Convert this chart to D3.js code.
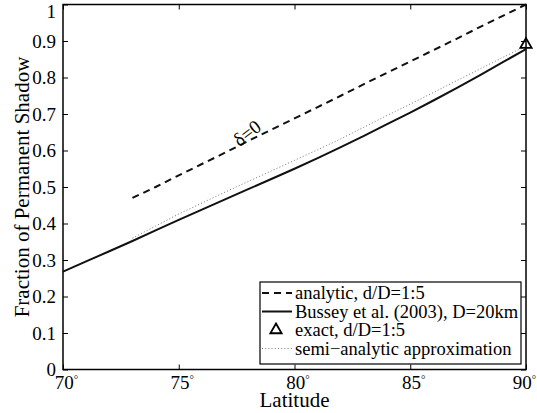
<!DOCTYPE html>
<html lang="en">
<head>
<meta charset="UTF-8">
<title>Fraction of Permanent Shadow</title>
<script src="https://cdn.jsdelivr.net/npm/d3@7"></script>
<style>
  body { margin: 0; background: #fff; }
  .domain { display: none; }
  .tick line { stroke: #000; stroke-width: 1; }
</style>
</head>
<body>
<div id="chart"></div>
<script>
// values
const latAnalytic = [73, 74, 75, 76, 77, 78, 79, 80, 81, 82, 83, 84, 85, 86, 87, 88, 89, 90];
const fracAnalytic = [0.47, 0.50, 0.532, 0.563, 0.594, 0.626, 0.657, 0.688, 0.719, 0.75, 0.782, 0.813, 0.844, 0.875, 0.906, 0.938, 0.969, 1.0];

const latBussey = [70, 71, 72, 73, 74, 75, 76, 77, 78, 79, 80, 81, 82, 83, 84, 85, 86, 87, 88, 89, 90];
const fracBussey = [0.268, 0.296, 0.324, 0.352, 0.381, 0.410, 0.438, 0.466, 0.494, 0.522, 0.550, 0.579, 0.609, 0.640, 0.672, 0.704, 0.737, 0.771, 0.806, 0.842, 0.878];

const latSemi = [73, 74, 75, 76, 77, 78, 79, 80, 81, 82, 83, 84, 85, 86, 87, 88, 89, 90];
const fracSemi = [0.36, 0.393, 0.426, 0.456, 0.486, 0.515, 0.544, 0.573, 0.602, 0.632, 0.664, 0.696, 0.727, 0.759, 0.791, 0.823, 0.855, 0.886];

const latExact = [90];
const fracExact = [0.89];

const xTicks = [70, 75, 80, 85, 90];
const yTicks = [0, 0.1, 0.2, 0.3, 0.4, 0.5, 0.6, 0.7, 0.8, 0.9, 1];
const legendLabels = ["analytic, d/D=1:5", "Bussey et al. (2003), D=20km", "exact, d/D=1:5", "semi\u2212analytic approximation"];

const FONT = "'Liberation Serif', 'DejaVu Serif', serif";
const width = 537, height = 413;
const margin = { top: 4.5, right: 11, bottom: 43.5, left: 63 };

const svg = d3.select("#chart").append("svg")
    .attr("width", width)
    .attr("height", height)
    .attr("font-family", FONT);

const x = d3.scaleLinear().domain([70, 90]).range([margin.left, width - margin.right]);
const y = d3.scaleLinear().domain([0, 1]).range([height - margin.bottom, margin.top]);

// axes with inward ticks on all four sides
const gx = svg.append("g")
    .attr("transform", `translate(0,${y(0)})`)
    .call(d3.axisBottom(x).tickValues(xTicks).tickSize(-5).tickPadding(6).tickFormat(d => d))
    .attr("font-family", FONT);
gx.selectAll(".tick text")
    .attr("font-size", 19)
    .attr("x", d => d === 90 ? -2 : 3)
    .append("tspan")
    .attr("dy", "-0.55em")
    .attr("font-size", 11)
    .text("\u00b0");

svg.append("g")
    .attr("transform", `translate(0,${y(1)})`)
    .call(d3.axisTop(x).tickValues(xTicks).tickSize(-5).tickFormat(""));

const gy = svg.append("g")
    .attr("transform", `translate(${x(70)},0)`)
    .call(d3.axisLeft(y).tickValues(yTicks).tickSize(-5).tickPadding(7).tickFormat(d3.format("")))
    .attr("font-family", FONT);
gy.selectAll(".tick text")
    .attr("font-size", 19)
    .attr("dy", d => d === 1 ? "0.7em" : "0.32em");

svg.append("g")
    .attr("transform", `translate(${x(90)},0)`)
    .call(d3.axisRight(y).tickValues(yTicks).tickSize(-5).tickFormat(""));

// frame
svg.append("rect")
    .attr("x", x(70)).attr("y", y(1))
    .attr("width", x(90) - x(70)).attr("height", y(0) - y(1))
    .attr("fill", "none").attr("stroke", "#000").attr("stroke-width", 1.5);

const line = d3.line().x(d => x(d[0])).y(d => y(d[1]));

svg.append("path")
    .datum(d3.zip(latSemi, fracSemi))
    .attr("d", line)
    .attr("fill", "none").attr("stroke", "#777").attr("stroke-width", 1)
    .attr("stroke-dasharray", "1,2.2");

svg.append("path")
    .datum(d3.zip(latBussey, fracBussey))
    .attr("d", line)
    .attr("fill", "none").attr("stroke", "#111").attr("stroke-width", 2);

svg.append("path")
    .datum(d3.zip(latAnalytic, fracAnalytic))
    .attr("d", line)
    .attr("fill", "none").attr("stroke", "#111").attr("stroke-width", 2)
    .attr("stroke-dasharray", "7,5");

const tri = d3.symbol().type(d3.symbolTriangle).size(55);
svg.selectAll(".exact")
    .data(d3.zip(latExact, fracExact))
    .join("path")
    .attr("class", "exact")
    .attr("d", tri)
    .attr("transform", d => `translate(${x(d[0])},${y(d[1])})`)
    .attr("fill", "none").attr("stroke", "#000").attr("stroke-width", 1.8);

// delta label
svg.append("text")
    .attr("transform", "translate(247,133) rotate(-38)")
    .attr("text-anchor", "middle")
    .attr("dy", "0.35em")
    .attr("font-size", 19)
    .text("\u03b4=0");

// axis titles
svg.append("text")
    .attr("x", x(80)).attr("y", 407)
    .attr("text-anchor", "middle")
    .attr("font-size", 21)
    .text("Latitude");

svg.append("text")
    .attr("transform", `translate(29,${(y(0) + y(1)) / 2}) rotate(-90)`)
    .attr("text-anchor", "middle")
    .attr("font-size", 21)
    .text("Fraction of Permanent Shadow");

// legend
const lg = svg.append("g");
lg.append("rect")
    .attr("x", 260).attr("y", 282).attr("width", 261).attr("height", 82)
    .attr("fill", "#fff").attr("stroke", "#000").attr("stroke-width", 1.2);

const rowY = i => 293 + i * 18.5;
lg.append("line").attr("x1", 262).attr("x2", 292).attr("y1", rowY(0)).attr("y2", rowY(0))
    .attr("stroke", "#111").attr("stroke-width", 2).attr("stroke-dasharray", "7,5");
lg.append("line").attr("x1", 262).attr("x2", 292).attr("y1", rowY(1)).attr("y2", rowY(1))
    .attr("stroke", "#111").attr("stroke-width", 2);
lg.append("path").attr("d", tri).attr("transform", `translate(276,${rowY(2)})`)
    .attr("fill", "none").attr("stroke", "#000").attr("stroke-width", 1.8);
lg.append("line").attr("x1", 262).attr("x2", 292).attr("y1", rowY(3)).attr("y2", rowY(3))
    .attr("stroke", "#777").attr("stroke-width", 1).attr("stroke-dasharray", "1,2.2");

lg.selectAll(".lab")
    .data(legendLabels)
    .join("text")
    .attr("class", "lab")
    .attr("x", 295)
    .attr("y", (d, i) => rowY(i))
    .attr("dy", "0.33em")
    .attr("font-size", 18.5)
    .text(d => d);
</script>
</body>
</html>
